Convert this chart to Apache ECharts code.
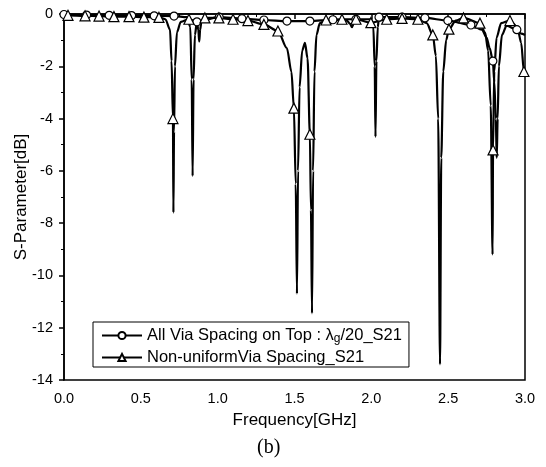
<!DOCTYPE html>
<html>
<head>
<meta charset="utf-8">
<script src="https://cdn.jsdelivr.net/npm/echarts@6/dist/echarts.min.js"></script>
<style>
html, body { margin: 0; padding: 0; background: #fff; }
#chart { width: 546px; height: 467px; }
</style>
</head>
<body>
<div id="chart"></div>
<script>
// axis ticks
var xTicks = [0, 0.5, 1.0, 1.5, 2.0, 2.5, 3.0];
var yTicks = [-14, -12, -10, -8, -6, -4, -2, 0];

// All Via Spacing on Top (circles): curve samples and marker points
var uniCurveF = [0.80, 0.822, 0.831, 0.837, 0.843, 0.852, 1.84, 1.862, 1.874, 1.886, 2.0, 2.013, 2.022, 2.027, 2.033, 2.042, 2.72, 2.75, 2.77, 2.80, 2.81, 2.816, 2.822, 2.83, 2.85, 2.88, 2.975, 3.0];
var uniCurveV = [-0.12, -0.5, -2.5, -6.2, -2.5, -0.8, -0.25, -0.38, -0.5, -0.35, -0.2, -0.5, -2.0, -4.7, -1.8, -0.5, -0.6, -0.9, -1.3, -2.6, -4.0, -5.5, -4.0, -2.0, -0.8, -0.45, -0.75, -0.8];
var uniMarkF = [0.0, 0.147, 0.294, 0.44, 0.587, 0.716, 0.865, 1.01, 1.158, 1.301, 1.451, 1.60, 1.75, 1.90, 2.05, 2.20, 2.349, 2.498, 2.648, 2.791, 2.947];
var uniMarkV = [-0.02, -0.04, -0.05, -0.06, -0.07, -0.08, -0.3, -0.12, -0.18, -0.23, -0.27, -0.27, -0.22, -0.2, -0.12, -0.12, -0.15, -0.25, -0.42, -1.8, -0.6];

// Non-uniform Via Spacing (triangles): curve samples and marker points
var nonCurveF = [0.0, 0.66, 0.69, 0.70, 0.712, 0.716, 0.722, 0.735, 0.76, 0.865, 0.874, 0.88, 0.886, 0.895, 1.45, 1.48, 1.508, 1.516, 1.523, 1.533, 1.55, 1.568, 1.585, 1.607, 1.614, 1.621, 1.63, 1.643, 1.665, 2.36, 2.42, 2.435, 2.447, 2.455, 2.468, 2.487, 2.55, 2.74, 2.76, 2.777, 2.789, 2.80, 2.815, 2.845, 2.95, 2.975, 3.0];
var nonCurveV = [-0.05, -0.2, -0.6, -1.8, -7.6, -4.5, -2.0, -0.7, -0.3, -0.3, -0.6, -1.05, -0.6, -0.25, -1.3, -2.2, -6.5, -10.7, -6.0, -2.8, -1.4, -1.1, -1.7, -7.5, -11.45, -6.0, -2.2, -0.8, -0.35, -0.35, -1.6, -4.0, -13.4, -5.5, -2.2, -1.0, -0.25, -0.7, -1.4, -3.5, -9.2, -2.2, -0.9, -0.35, -0.5, -1.1, -2.3];
var nonMarkF = [0.026, 0.137, 0.228, 0.325, 0.423, 0.52, 0.618, 0.709, 0.813, 0.917, 1.008, 1.10, 1.197, 1.301, 1.392, 1.496, 1.60, 1.705, 1.809, 1.90, 1.997, 2.10, 2.20, 2.303, 2.40, 2.505, 2.60, 2.707, 2.792, 2.902, 2.993];
var nonMarkV = [-0.05, -0.07, -0.08, -0.1, -0.1, -0.12, -0.13, -4.0, -0.2, -0.15, -0.15, -0.2, -0.25, -0.4, -0.65, -3.6, -4.6, -0.23, -0.2, -0.2, -0.33, -0.2, -0.17, -0.2, -0.8, -0.58, -0.15, -0.35, -5.2, -0.25, -2.2];

var nameUni = 'All Via Spacing on Top : \u03bbg/20_S21';
var nameNon = 'Non-uniformVia Spacing_S21';

function buildLine(cf, cv, mf, mv) {
	var pts = [];
	for (var i = 0; i < cf.length; i++) {
		pts.push({ value: [cf[i], cv[i]], symbol: 'none' });
	}
	for (var j = 0; j < mf.length; j++) {
		pts.push({ value: [mf[j], mv[j]] });
	}
	pts.sort(function (a, b) { return a.value[0] - b.value[0]; });
	return pts;
}

var font = '"Liberation Sans", Arial, sans-serif';
var chart = echarts.init(document.getElementById('chart'));
var option = {
	animation: false,
	backgroundColor: '#fff',
	grid: {
		left: 64, right: 21, top: 14, bottom: 87,
		containLabel: false, outerBoundsMode: 'none',
		show: true, borderColor: '#000', borderWidth: 1.5
	},
	legend: {
		orient: 'vertical',
		left: 93, top: 322,
		padding: [4, 7, 0, 8],
		itemGap: 3,
		itemWidth: 40, itemHeight: 9,
		borderColor: '#000', borderWidth: 1,
		data: [nameUni, nameNon],
		formatter: function (name) {
			if (name === nameUni) {
				return 'All Via Spacing on Top : \u03bb{s|g}/20_S21';
			}
			return name;
		},
		textStyle: {
			fontFamily: font, fontSize: 16.5, color: '#000', lineHeight: 19,
			rich: {
				s: { fontFamily: font, fontSize: 12, color: '#000', padding: [6, 0, 0, 0] }
			}
		}
	},
	xAxis: {
		type: 'value',
		min: xTicks[0], max: xTicks[xTicks.length - 1], interval: 0.5,
		name: 'Frequency[GHz]', nameLocation: 'middle', nameGap: 32,
		nameTextStyle: { fontFamily: font, fontSize: 17, color: '#000' },
		axisLine: { lineStyle: { color: '#000', width: 1.5 } },
		axisTick: { length: 5, lineStyle: { color: '#000', width: 1.5 } },
		minorTick: { show: true, splitNumber: 2, length: 3, lineStyle: { color: '#000', width: 1 } },
		splitLine: { show: false },
		axisLabel: {
			margin: 11, fontFamily: font, fontSize: 14.5, color: '#000',
			formatter: function (v) { return v.toFixed(1); }
		}
	},
	yAxis: {
		type: 'value',
		min: yTicks[0], max: yTicks[yTicks.length - 1], interval: 2,
		name: 'S-Parameter[dB]', nameLocation: 'middle', nameGap: 34,
		nameMoveOverlap: false,
		nameTextStyle: { fontFamily: font, fontSize: 17, color: '#000' },
		axisLine: { show: true, lineStyle: { color: '#000', width: 1.5 } },
		axisTick: { show: true, length: 5, lineStyle: { color: '#000', width: 1.5 } },
		minorTick: { show: true, splitNumber: 2, length: 3, lineStyle: { color: '#000', width: 1 } },
		splitLine: { show: false },
		axisLabel: { margin: 11, fontFamily: font, fontSize: 14.5, color: '#000' }
	},
	graphic: [{
		type: 'text', left: 257, top: 438,
		style: { text: '(b)', font: '20px "Liberation Serif", serif', fill: '#000' }
	}],
	series: [
		{
			name: nameUni,
			type: 'line',
			symbol: 'circle', symbolSize: 8,
			showAllSymbol: true,
			smooth: 0.3, smoothMonotone: 'x',
			lineStyle: { color: '#000', width: 2.2 },
			itemStyle: { color: '#fff', borderColor: '#000', borderWidth: 1.2 },
			data: buildLine(uniCurveF, uniCurveV, uniMarkF, uniMarkV)
		},
		{
			name: nameNon,
			type: 'line',
			symbol: 'triangle', symbolSize: 10,
			showAllSymbol: true,
			smooth: 0.3, smoothMonotone: 'x',
			lineStyle: { color: '#000', width: 2.2 },
			itemStyle: { color: '#fff', borderColor: '#000', borderWidth: 1.2 },
			data: buildLine(nonCurveF, nonCurveV, nonMarkF, nonMarkV)
		}
	]
};
chart.setOption(option);
</script>
</body>
</html>
